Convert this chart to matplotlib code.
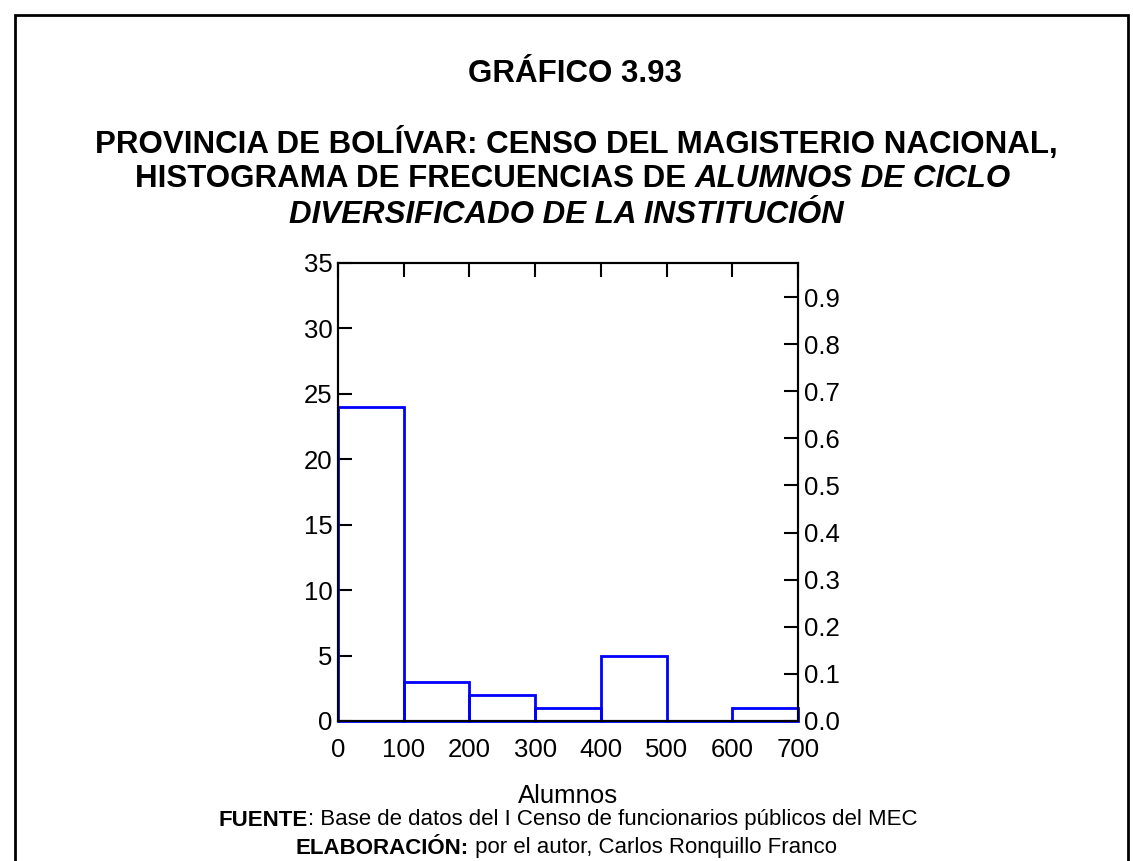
import matplotlib
matplotlib.use("Agg")
import matplotlib.pyplot as plt
from matplotlib.patches import Rectangle
from matplotlib.ticker import FormatStrFormatter

# data
bin_edges = [0, 100, 200, 300, 400, 500, 600, 700]
counts = [24, 3, 2, 1, 5, 0, 1]
left_ticks = [0, 5, 10, 15, 20, 25, 30, 35]
right_ticks = [0.0, 0.1, 0.2, 0.3, 0.4, 0.5, 0.6, 0.7, 0.8, 0.9]

plt.rcParams['font.family'] = ['Liberation Sans', 'DejaVu Sans']

W, H = 1133, 861
fig = plt.figure(figsize=(W / 100, H / 100), dpi=100)
renderer = fig.canvas.get_renderer()


def centered_line(pieces, xc, y, size):
    """Place text pieces side by side, whole line centred at xc (pixels)."""
    texts = [fig.text(0, 1 - y / H, s, ha='left', va='center', fontsize=size,
                      fontweight=w, style=st) for s, w, st in pieces]
    widths = [t.get_window_extent(renderer).width for t in texts]
    x = xc - sum(widths) / 2
    for t, w in zip(texts, widths):
        t.set_x(x / W)
        x += w


# outer frame
fig.patches.append(Rectangle((15 / W, -0.05), (1128 - 15) / W, 1.05 - 15 / H,
                             transform=fig.transFigure, fill=False,
                             edgecolor='black', lw=2))

# titles
tsize = 22.5
centered_line([("GRÁFICO 3.93", 'bold', 'normal')], 575, 74, tsize)
centered_line([("PROVINCIA DE BOLÍVAR: CENSO DEL MAGISTERIO NACIONAL,", 'bold', 'normal')],
              576, 143, tsize)
centered_line([("HISTOGRAMA DE FRECUENCIAS DE ", 'bold', 'normal'),
               ("ALUMNOS DE CICLO", 'bold', 'italic')], 573, 179, tsize)
centered_line([("DIVERSIFICADO DE LA INSTITUCIÓN", 'bold', 'italic')], 566, 215, tsize)

# axes
x0, x1, y0, y1 = 338, 798, 263, 721
ax = fig.add_axes([x0 / W, 1 - y1 / H, (x1 - x0) / W, (y1 - y0) / H])
ax.bar(bin_edges[:-1], counts, width=100, align='edge', fill=False,
       edgecolor='blue', lw=2, zorder=5, clip_on=False)
ax.set_xlim(bin_edges[0], bin_edges[-1])
ax.set_ylim(left_ticks[0], left_ticks[-1])
ax.set_xticks(bin_edges)
ax.set_yticks(left_ticks)
for s in ax.spines.values():
    s.set_linewidth(1.5)
ax.tick_params(axis='both', direction='in', length=10, width=1.5,
               labelsize=18.5, pad=4)
ax.tick_params(axis='x', top=True, bottom=False, labeltop=False, pad=12)
ax.set_xlabel("Alumnos", fontsize=18.5, labelpad=16)

total = sum(counts)
ax2 = ax.twinx()
ax2.set_ylim(left_ticks[0] / total, left_ticks[-1] / total)
ax2.set_yticks(right_ticks)
ax2.yaxis.set_major_formatter(FormatStrFormatter('%.1f'))
ax2.tick_params(axis='y', direction='in', length=10, width=1.5,
                labelsize=18.5, pad=4)
for s in ax2.spines.values():
    s.set_linewidth(1.5)

# source notes
nsize = 16
centered_line([("FUENTE", 'bold', 'normal'),
               (": Base de datos del I Censo de funcionarios públicos del MEC", 'normal', 'normal')],
              568, 820, nsize)
centered_line([("ELABORACIÓN:", 'bold', 'normal'),
               (" por el autor, Carlos Ronquillo Franco", 'normal', 'normal')],
              566, 848, nsize)

fig.savefig("out.png", dpi=100)
